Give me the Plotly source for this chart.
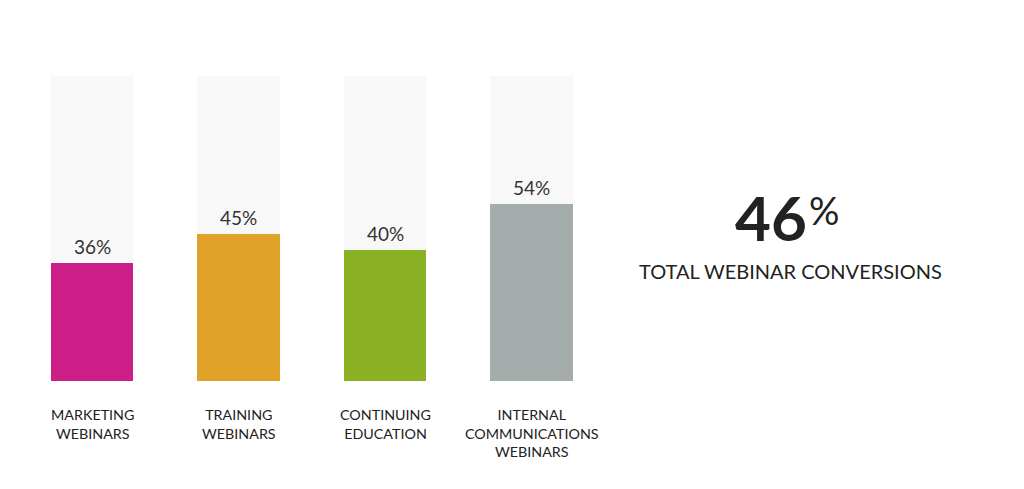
import plotly.graph_objects as go

# webinar conversion rates by type
categories = ["MARKETING<br>WEBINARS", "TRAINING<br>WEBINARS",
              "CONTINUING<br>EDUCATION", "INTERNAL<br>COMMUNICATIONS<br>WEBINARS"]
values = [36, 45, 40, 54]
colors = ["#cc1f8a", "#e1a228", "#8ab124", "#a4acac"]
track_max = 93.3
total_value = 46
total_label = "TOTAL WEBINAR CONVERSIONS"

x = list(range(len(categories)))
bar_w = 0.56
step = 146.5  # pixels between bar centres

fig = go.Figure()

# light grey track behind each bar
fig.add_trace(go.Bar(x=x, y=[track_max] * len(x), width=bar_w,
                     marker=dict(color="#f8f8f8", line=dict(width=0)),
                     hoverinfo="skip", showlegend=False))
fig.add_trace(go.Bar(x=x, y=values, width=bar_w,
                     marker=dict(color=colors, line=dict(width=0)),
                     showlegend=False))

annotations = []
for i, v in enumerate(values):
    annotations.append(dict(x=i, y=v, text=f"{v}%", showarrow=False,
                            yanchor="bottom", yshift=3,
                            font=dict(family="Lato", size=19, color="#333333")))
    annotations.append(dict(x=i, y=0, text=categories[i], showarrow=False,
                            yanchor="top", yshift=-23, align="center",
                            font=dict(family="Lato", size=14.3, color="#222222")))

# big total figure on the right
annotations.append(dict(x=801 / 1024, y=0.538, xref="paper", yref="paper",
                        text=f"<b>{total_value}</b>", showarrow=False,
                        xanchor="right", yanchor="middle",
                        font=dict(family="Lato", size=62, color="#222222")))
annotations.append(dict(x=799 / 1024, y=0.562, xref="paper", yref="paper",
                        text="%", showarrow=False,
                        xanchor="left", yanchor="middle",
                        font=dict(family="Lato", size=38, color="#222222")))
annotations.append(dict(x=782.5 / 1024, y=0.361, xref="paper", yref="paper",
                        text=total_label, showarrow=False,
                        xanchor="center", yanchor="middle",
                        font=dict(family="Lato", size=20, color="#222222")))

fig.update_layout(
    width=1024, height=489,
    margin=dict(l=0, r=0, t=68, b=116),
    paper_bgcolor="white", plot_bgcolor="white",
    barmode="overlay", bargap=0,
    xaxis=dict(range=[-84 / step, (1024 - 84) / step], visible=False),
    yaxis=dict(range=[0, track_max], visible=False),
    annotations=annotations,
)

fig.write_html("out.html")
